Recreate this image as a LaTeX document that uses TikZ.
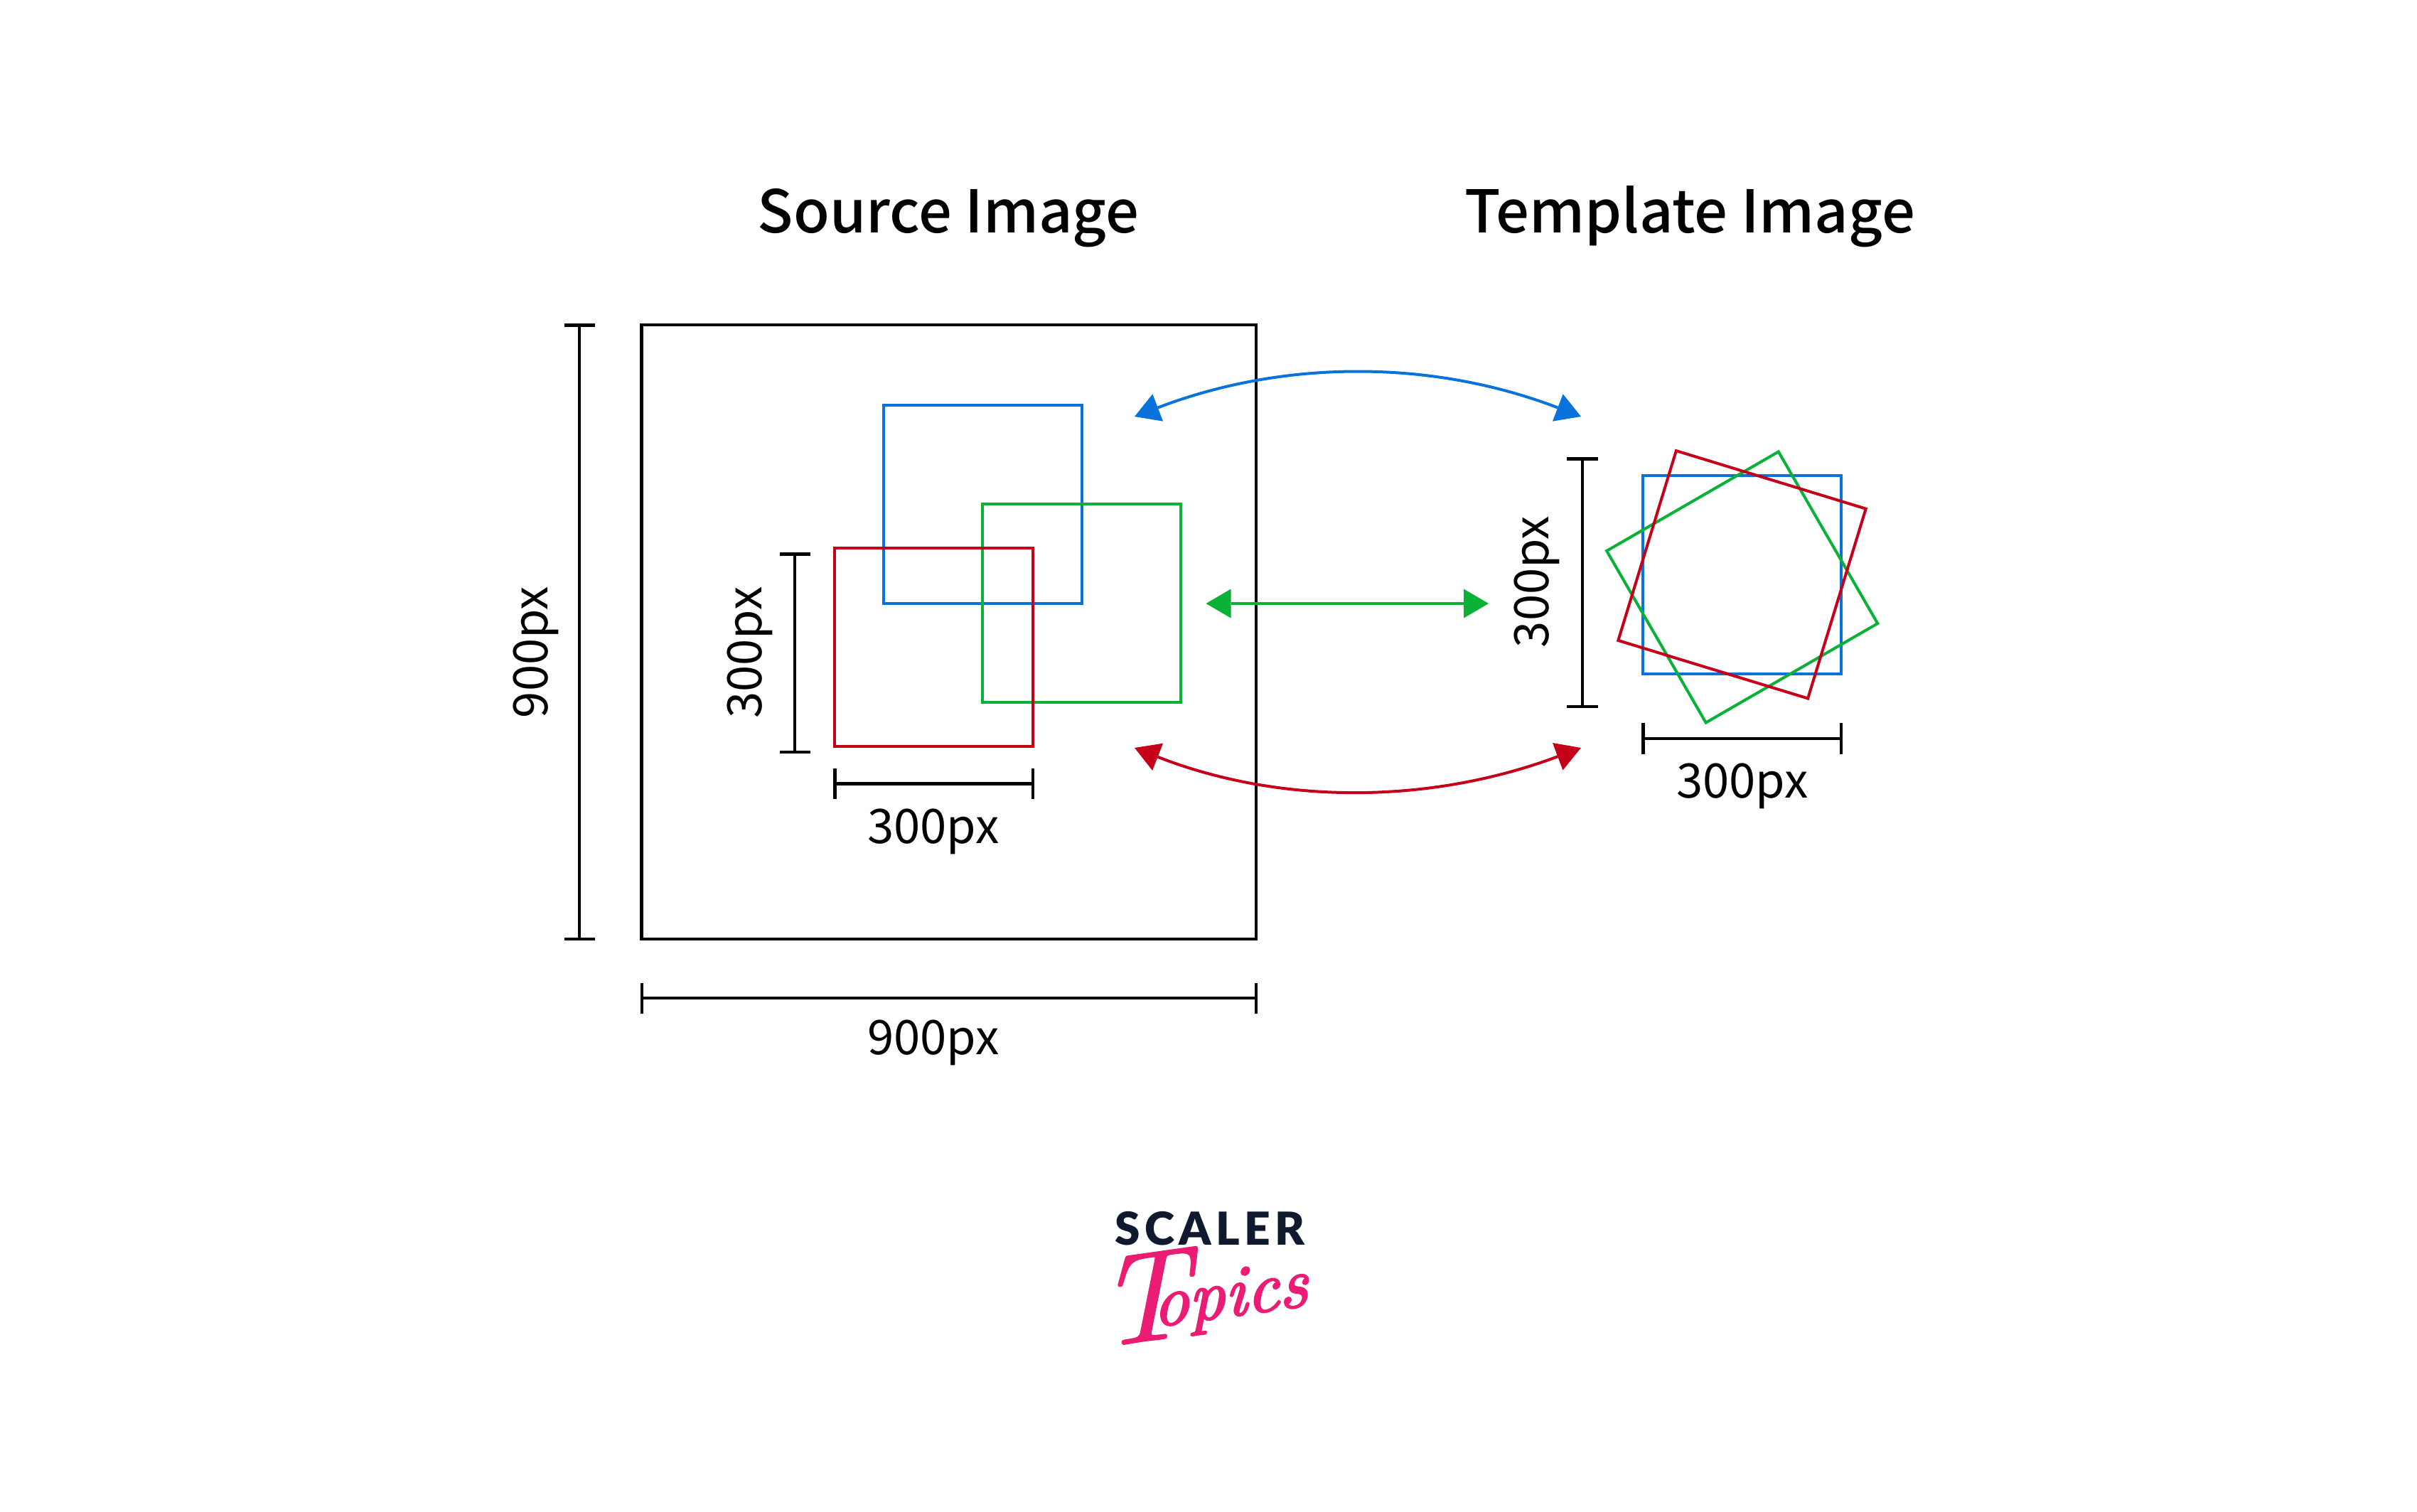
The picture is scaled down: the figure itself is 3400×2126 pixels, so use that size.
\documentclass[tikz,border=0pt]{standalone}
\usepackage{fontspec}
\usetikzlibrary{arrows.meta}
\setmainfont{Noto Sans CJK SC}
\newfontfamily\headface{Noto Sans CJK SC Medium}
\newfontfamily\logoface[LetterSpace=10]{Lato Black}
\newfontfamily\topicface{lmroman10-italic}[Extension=.otf,FakeBold=2.5,FakeSlant=0.1]
\newfontfamily\capface{lmroman10-italic}[Extension=.otf,FakeBold=1,FakeSlant=0.1]
\definecolor{cblue}{HTML}{0873DA}
\definecolor{cgreen}{HTML}{09B136}
\definecolor{cred}{HTML}{C70019}
\definecolor{navy}{HTML}{0F1A2E}
\definecolor{pink}{HTML}{EB1C73}
\tikzset{
  x=0.5pt,y=-0.5pt,
  box/.style={draw,line width=2pt,inner sep=0pt,outer sep=0pt,minimum size=#1},
  small/.style={box=139.5pt},
  dim/.style={line width=2.25pt},
  capH/.style={dim,{Bar[width=#1,sep=0pt]}-{Bar[width=#1,sep=0pt]}},
  link/.style={line width=2pt,{Triangle[length=17.5pt,width=20.5pt,line width=0pt]}-{Triangle[length=17.5pt,width=20.5pt,line width=0pt]}},
  lab/.style={anchor=base,inner sep=0pt,font=\fontsize{33.5}{33.5}\selectfont},
  head/.style={anchor=base,inner sep=0pt,font=\headface\fontsize{41.4}{41.4}\selectfont},
}
\begin{document}
\begin{tikzpicture}
\useasboundingbox[fill=white] (0,0) rectangle (3400,2126);
% titles
\node[head] (t1) at (1334,327) {Source Image};
\node[head] (t2) at (2377,327) {Template Image};
% source image
\node[draw,line width=2.25pt,inner sep=0pt,outer sep=0pt,minimum width=432.25pt,minimum height=432pt] (src) at (1334.5,889) {};
\node[small,cblue] (sb) at (1382.5,709.5) {};
\node[small,cgreen] (sg) at (1521.5,848.5) {};
\node[small,cred] (sr) at (1313.5,910.5) {};
% template
\node[small,cblue] (tb) at (2450.5,808.7) {};
\node[small,cgreen,rotate=30] (tg) at (2450.7,826) {};
\node[small,cred,rotate=-17] (tr) at (2450.5,808.3) {};
% dimensions
\coordinate (d1a) at (815,455); \coordinate (d1b) at (815,1323);
\draw[capH=21.5pt] (d1a) -- (d1b);
\coordinate (d2a) at (900.5,1404); \coordinate (d2b) at (1769,1404);
\draw[capH=21.5pt] (d2a) -- (d2b);
\coordinate (d3a) at (1118,777); \coordinate (d3b) at (1118,1060);
\draw[capH=21.5pt] (d3a) -- (d3b);
\coordinate (d4a) at (1172,1102.5); \coordinate (d4b) at (1455,1102.5);
\draw[capH=21.5pt] (d4a) -- (d4b);
\coordinate (d5a) at (2226,643); \coordinate (d5b) at (2226,996);
\draw[capH=22pt] (d5a) -- (d5b);
\coordinate (d6a) at (2309,1039); \coordinate (d6b) at (2592,1039);
\draw[capH=22pt] (d6a) -- (d6b);
% labels
\node[lab,rotate=90] (l1) at (770,917.5) {900px};
\node[lab] (l2) at (1313,1483) {900px};
\node[lab,rotate=90] (l3) at (1071,918) {300px};
\node[lab] (l4) at (1313,1186) {300px};
\node[lab,rotate=90] (l5) at (2178,818.5) {300px};
\node[lab] (l6) at (2451,1122) {300px};
% connectors
\coordinate (bl) at (1596,586); \coordinate (br) at (2224,586);
\coordinate (gl) at (1696.5,849); \coordinate (gr) at (2094,849);
\coordinate (rl) at (1596,1052); \coordinate (rr) at (2224,1052);
\draw[link,cblue] (bl) .. controls (1806,505.5) and (2014,505.5) .. (br);
\draw[link,cgreen] (gl) -- (gr);
\draw[link,cred] (rl) .. controls (1800,1132) and (2010,1132) .. (rr);
% logo
\node[anchor=base,inner sep=0pt,text=navy,font=\logoface\fontsize{32}{32}\selectfont] (sc) at (1702,1751) {SCALER};
\node[anchor=base west,inner sep=0pt,text=pink,rotate=8] (tp) at (1545,1896) {\capface\fontsize{90}{90}\selectfont T\kern-24pt\raisebox{9pt}{\topicface\fontsize{50}{50}\selectfont opics}};
\end{tikzpicture}
\end{document}
